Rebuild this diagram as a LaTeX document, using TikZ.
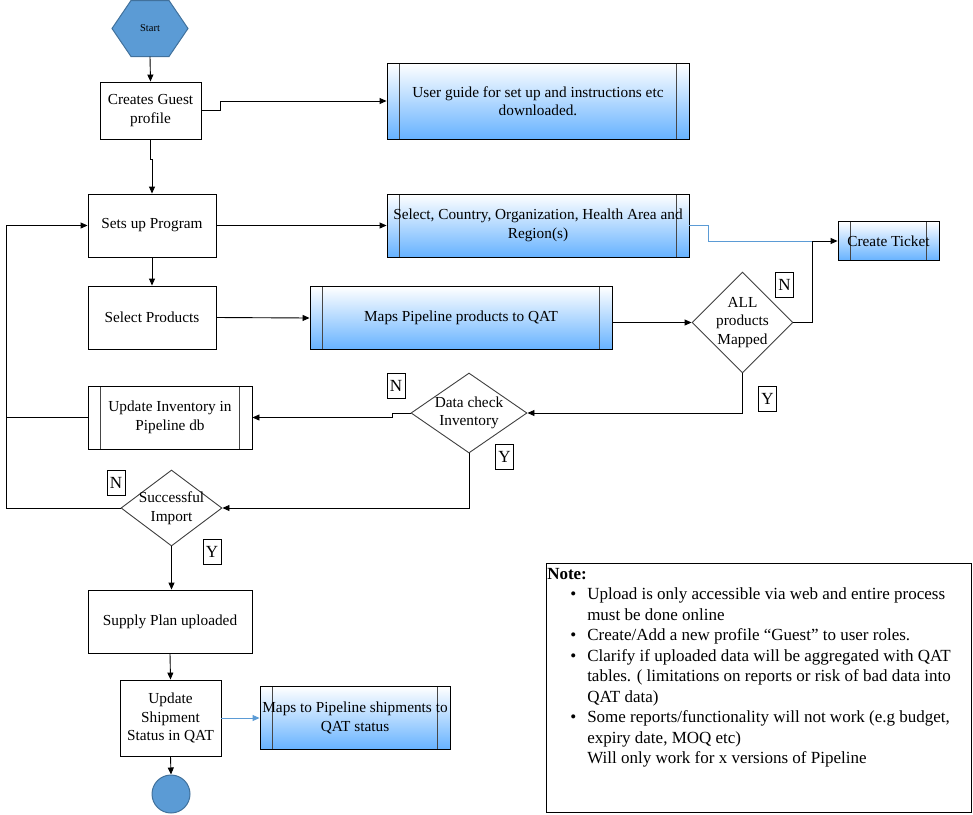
\documentclass[tikz,border=0pt]{standalone}
\usepackage{fontspec}
\setmainfont{Liberation Serif}
\usetikzlibrary{shapes.geometric,arrows.meta}
\definecolor{hexblue}{RGB}{91,155,213}
\definecolor{hexedge}{RGB}{65,113,156}
\definecolor{gradblue}{RGB}{102,178,255}
\definecolor{barcol}{RGB}{70,70,70}
\definecolor{linkblue}{RGB}{91,155,213}
\newcommand\noteitem[1]{\par\hangindent=40pt\hangafter=0\noindent\llap{\textbullet\hspace{11pt}}#1\par}
\begin{document}
\begin{tikzpicture}[x=1pt,y=-1pt,
  font=\fontsize{15.3}{18.5}\selectfont,
  flow/.style={line width=0.9pt,-{Triangle[length=7pt,width=6pt]}},
  plain/.style={draw,line width=0.9pt,fill=white,align=center,inner sep=0pt},
  bars/.style={path picture={\draw[barcol,line width=1.2pt]
    ([xshift=12.5pt]path picture bounding box.north west) -- ([xshift=12.5pt]path picture bounding box.south west)
    ([xshift=-12.5pt]path picture bounding box.north east) -- ([xshift=-12.5pt]path picture bounding box.south east);}},
  subproc/.style={draw,line width=0.9pt,align=center,inner sep=0pt,top color=white,bottom color=gradblue,bars},
  decision/.style={diamond,draw=black!75,line width=0.9pt,fill=white,align=center,inner sep=-14pt},
  yn/.style={draw,line width=0.8pt,fill=white,minimum width=18pt,minimum height=25pt,inner sep=0pt,font=\fontsize{17}{17}\selectfont}]
\useasboundingbox (0,0) rectangle (973,814);
\filldraw[fill=hexblue,draw=hexedge,line width=1pt] (112,28.5) -- (131,0.5) -- (169,0.5) -- (188,28.5) -- (169,56.5) -- (131,56.5) -- cycle;
\node[minimum height=56pt,font=\fontsize{10.5}{12}\selectfont] (start) at (150,28.5) {Start};
\node[plain,minimum width=101pt,minimum height=57pt] (guest) at (150.5,110.5) {Creates Guest\\profile};
\node[subproc,minimum width=302pt,minimum height=76pt] (guide) at (538,101) {User guide for set up and instructions etc\\downloaded.};
\node[plain,minimum width=128pt,minimum height=63pt] (setup) at (152,225.5) {Sets up Program};
\node[subproc,minimum width=302pt,minimum height=63pt] (region) at (538,225.5) {Select, Country, Organization, Health Area and\\Region(s)};
\node[subproc,minimum width=101pt,minimum height=39pt] (ticket) at (888.5,241) {Create Ticket};
\node[plain,minimum width=128pt,minimum height=63pt] (products) at (152,317.5) {Select Products};
\node[subproc,minimum width=302pt,minimum height=63pt] (pipemap) at (461,318) {Maps Pipeline products to QAT};
\node[decision,minimum width=101pt,minimum height=101pt] (mapped) at (742.5,322.5) {ALL\\products\\Mapped};
\node[decision,minimum width=116pt,minimum height=80pt] (datacheck) at (469,413) {Data check\\Inventory};
\node[plain,bars,minimum width=164pt,minimum height=63pt] (inventory) at (170,417.5) {Update Inventory in\\Pipeline db};
\node[decision,minimum width=101pt,minimum height=76pt] (import) at (171.5,508) {Successful\\Import};
\node[plain,minimum width=164pt,minimum height=63pt] (supply) at (170,621.5) {Supply Plan uploaded};
\node[plain,minimum width=101pt,minimum height=76pt] (shipment) at (170.5,718) {Update\\Shipment\\Status in QAT};
\node[subproc,minimum width=190pt,minimum height=63pt] (shipmap) at (355,718) {Maps to Pipeline shipments to\\QAT status};
\node[circle,draw=hexedge,fill=hexblue,line width=1pt,minimum size=38pt,inner sep=0pt] (finish) at (171,794) {};
\node[yn] (mappedN) at (784.5,285) {N};
\node[yn] (mappedY) at (767.5,399) {Y};
\node[yn] (checkN) at (396,385.5) {N};
\node[yn] (checkY) at (504.5,457) {Y};
\node[yn] (importN) at (116,483) {N};
\node[yn] (importY) at (212,551.5) {Y};
\node[draw,line width=0.9pt,minimum width=425pt,minimum height=249pt] (note) at (758.5,687.5) {};
\node[anchor=north west,inner xsep=1.5pt,inner ysep=5.5pt,font=\fontsize{17}{20.5}\selectfont] (notetext) at (note.north west) {\begin{minipage}[t]{420pt}\parindent=0pt
\noindent\textbf{Note:}\par
\noteitem{Upload is only accessible via web and entire process\\must be done online}
\noteitem{Create/Add a new profile “Guest” to user roles.}
\noteitem{Clarify if uploaded data will be aggregated with QAT\\tables. ( limitations on reports or risk of bad data into\\QAT data)}
\noteitem{Some reports/functionality will not work (e.g budget,\\expiry date, MOQ etc)\\Will only work for x versions of Pipeline}
\end{minipage}};
\coordinate (loopx) at (6,0);
\coordinate (join) at (812,241);
\draw[flow] (start.south) -- (guest.north);
\draw[flow] (guest.east) -- ++(19,0) |- (guide.west);
\draw[flow] (guest.south) -- ++(0,20) -| (setup.north);
\draw[flow] (setup.east) -- (region.west);
\draw[flow] (setup.south) -- (products.north);
\draw[flow] (products.east) -- (pipemap.west);
\draw[flow] (pipemap.east |- mapped.west) -- (mapped.west);
\draw[line width=0.9pt,linkblue] (region.east) -- ++(19,0) |- (join);
\draw[flow] (mapped.east) -| (join) -- (ticket.west);
\draw[flow] (mapped.south) |- (datacheck.east);
\draw[flow] (datacheck.west) -- ++(-18,0) |- (inventory.east);
\draw[line width=0.9pt] (inventory.west) -- (inventory.west -| loopx);
\draw[flow] (datacheck.south) |- (import.east);
\draw[flow] (import.west) -| (loopx |- setup.west) -- (setup.west);
\draw[flow] (import.south) -- (import.south |- supply.north);
\draw[flow] (supply.south) -- (shipment.north);
\draw[flow,linkblue] (shipment.east) -- (shipmap.west);
\draw[flow] (shipment.south) -- (finish.north);
\end{tikzpicture}
\end{document}
